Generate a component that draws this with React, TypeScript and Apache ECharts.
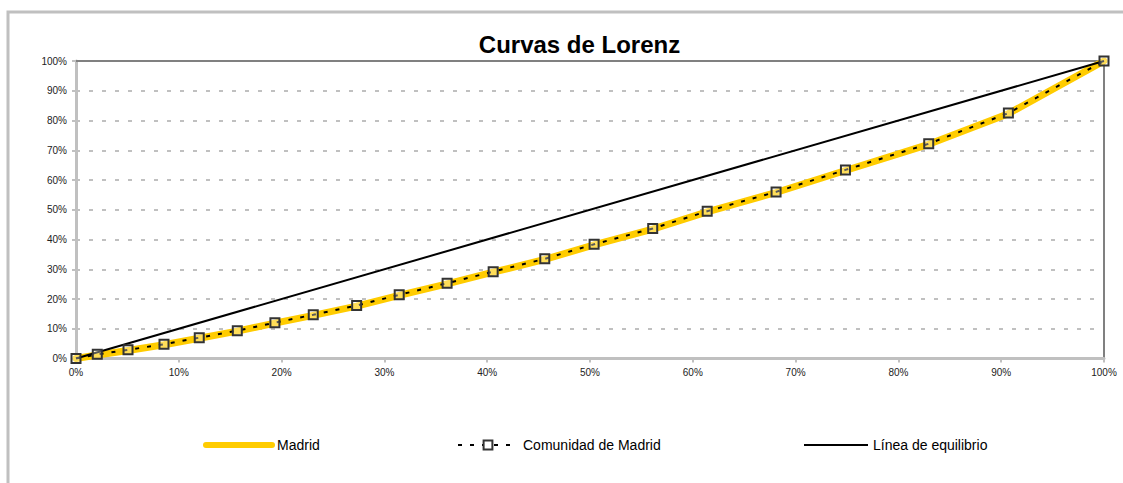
import React, { useEffect, useRef } from "react";
import * as echarts from "echarts";

// Cumulative share of population (%) - x positions of the points
const populationShare = [0, 2.07, 5.06, 8.56, 11.99, 15.69, 19.35, 23.08, 27.3, 31.44, 36.1, 40.58, 45.6, 50.4, 56.1, 61.4, 68.1, 74.85, 82.95, 90.7, 100];
// Cumulative share of income (%)
const madridValues = [0, 1.2, 2.7, 4.6, 6.8, 9.2, 11.9, 14.5, 17.6, 21.2, 25.1, 29.0, 33.3, 38.2, 43.5, 49.3, 55.8, 63.2, 72.0, 82.3, 100];
const comunidadValues = [0, 1.4, 2.9, 4.8, 7.0, 9.35, 12.05, 14.7, 17.8, 21.4, 25.3, 29.2, 33.5, 38.4, 43.7, 49.5, 56.0, 63.4, 72.2, 82.5, 100];
const equilibrioX = [0, 100];
const equilibrioY = [0, 100];

const seriesNames = ["Madrid", "Comunidad de Madrid", "Línea de equilibrio"];
const titleText = "Curvas de Lorenz";

const FONT = "'Liberation Sans', Arial, Helvetica, sans-serif";

export default function App() {
  const ref = useRef<HTMLDivElement>(null);

  useEffect(() => {
    document.body.style.margin = "0";
    if (!ref.current) return;
    const chart = echarts.init(ref.current, null, { renderer: "svg" });

    const pair = (xs: number[], ys: number[]) => xs.map((x, i) => [x, ys[i]]);

    const legendText = { fontFamily: FONT, fontSize: 14, color: "#000" };
    const frameAxis = {
      show: true,
      type: "value",
      min: 0,
      max: 100,
      interval: 10,
      axisLine: { show: true, onZero: false, lineStyle: { color: "#808080", width: 2 } },
      axisTick: { show: false },
      axisLabel: { show: false },
      splitLine: { show: false },
    };

    chart.setOption({
      animation: false,
      backgroundColor: "#fff",
      textStyle: { fontFamily: FONT },
      graphic: [
        {
          type: "rect",
          silent: true,
          z: -10,
          shape: { x: 8, y: 12, width: 2000, height: 2000 },
          style: { fill: "none", stroke: "#c0c0c0", lineWidth: 3 },
        },
      ],
      title: {
        text: titleText,
        left: 579.5,
        top: 32,
        padding: 0,
        textAlign: "center",
        textStyle: { fontFamily: FONT, fontSize: 24, fontWeight: "bold", color: "#000" },
      },
      legend: [
        {
          data: [seriesNames[0]],
          left: 203,
          top: 438,
          padding: 0,
          itemWidth: 66,
          itemHeight: 10,
          textStyle: legendText,
          lineStyle: { width: 6, cap: "round" },
          itemStyle: { opacity: 0 },
          selectedMode: false,
        },
        {
          data: [seriesNames[1]],
          left: 457,
          top: 438,
          padding: 0,
          itemWidth: 60,
          itemHeight: 11,
          textStyle: legendText,
          lineStyle: { width: 2, type: [4, 8] },
          itemStyle: { color: "#fff", borderColor: "#333", borderWidth: 2 },
          selectedMode: false,
        },
        {
          data: [seriesNames[2]],
          left: 803,
          top: 438,
          padding: 0,
          itemWidth: 64,
          itemHeight: 10,
          textStyle: legendText,
          lineStyle: { width: 2 },
          itemStyle: { opacity: 0 },
          selectedMode: false,
        },
      ],
      grid: {
        left: 76,
        right: 19,
        top: 61,
        bottom: 124.5,
        show: false,
      },
      xAxis: [
        {
          type: "value",
          min: 0,
          max: 100,
          interval: 10,
          axisLine: { show: true, onZero: false, lineStyle: { color: "#c0c0c0", width: 3 } },
          axisTick: { show: true, length: 4, lineStyle: { color: "#c0c0c0", width: 2 } },
          splitLine: { show: false },
          axisLabel: {
            formatter: "{value}%",
            fontFamily: FONT,
            fontSize: 10,
            color: "#222",
            margin: 9,
          },
        },
        { ...frameAxis, position: "top" },
      ],
      yAxis: [
        {
          type: "value",
          min: 0,
          max: 100,
          interval: 10,
          axisLine: { show: true, onZero: false, lineStyle: { color: "#c0c0c0", width: 3 } },
          axisTick: { show: true, length: 4, lineStyle: { color: "#c0c0c0", width: 2 } },
          splitLine: { show: true, lineStyle: { color: "#c0c0c0", width: 2, type: [4, 9] } },
          axisLabel: {
            formatter: "{value}%",
            fontFamily: FONT,
            fontSize: 10,
            color: "#222",
            margin: 9,
          },
        },
        { ...frameAxis, position: "right" },
      ],
      series: [
        {
          name: seriesNames[0],
          type: "line",
          data: pair(populationShare, madridValues),
          symbol: "none",
          lineStyle: { color: "#FFCC00", width: 7, cap: "round", join: "round" },
          itemStyle: { color: "#FFCC00" },
          z: 2,
        },
        {
          name: seriesNames[1],
          type: "line",
          data: pair(populationShare, comunidadValues),
          symbol: "rect",
          symbolSize: 9,
          showAllSymbol: true,
          lineStyle: { color: "#000", width: 2, type: [4, 8] },
          itemStyle: { color: "rgba(255,255,255,0.35)", borderColor: "#333", borderWidth: 2 },
          z: 4,
        },
        {
          name: seriesNames[2],
          type: "line",
          data: pair(equilibrioX, equilibrioY),
          symbol: "none",
          lineStyle: { color: "#000", width: 2 },
          itemStyle: { color: "#000" },
          z: 3,
        },
      ],
    });

    return () => chart.dispose();
  }, []);

  return <div ref={ref} style={{ width: 1123, height: 483 }} />;
}
